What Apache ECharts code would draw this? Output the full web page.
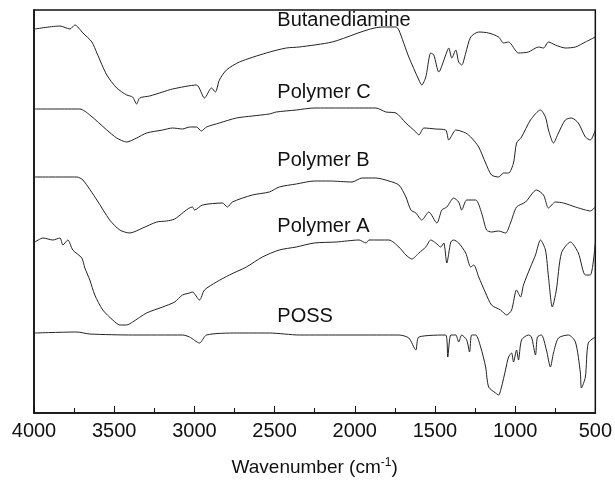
<!DOCTYPE html>
<html>
<head>
<meta charset="utf-8">
<script src="https://cdn.jsdelivr.net/npm/echarts@6/dist/echarts.min.js"></script>
<style>
  html, body { margin: 0; padding: 0; background: #fff; }
  #chart { width: 615px; height: 484px; }
</style>
</head>
<body>
<div id="chart"></div>
<script>
// FTIR spectra, stacked with offsets; [wavenumber, transmittance (a.u.)]
const butanediamine = [
  [3994, 384], [3838, 387], [3776, 384], [3745, 388], [3695, 380], [3639, 371], [3608, 360],
  [3546, 338], [3484, 325], [3422, 318], [3385, 316], [3360, 309], [3341, 315], [3279, 317],
  [3198, 321], [3136, 324], [2987, 328], [2937, 315], [2893, 325], [2869, 321], [2844, 333],
  [2800, 343], [2719, 351], [2552, 360], [2427, 365], [2346, 366], [2141, 371], [1830, 386],
  [1743, 386], [1725, 383], [1663, 356], [1600, 333], [1582, 328], [1557, 336], [1526, 360],
  [1507, 358], [1476, 341], [1433, 358], [1414, 365], [1395, 355], [1370, 363], [1352, 351],
  [1333, 348], [1308, 360], [1277, 376], [1227, 381], [1165, 380], [1103, 376], [1072, 370],
  [1041, 371], [979, 360], [917, 361], [854, 366], [823, 365], [792, 371], [749, 368],
  [687, 365], [624, 366], [562, 371], [500, 376]
];
const polymerC = [
  [3994, 304], [3714, 304], [3652, 298], [3546, 283], [3484, 275], [3422, 271], [3360, 275],
  [3298, 280], [3198, 283], [3136, 285], [3074, 284], [3030, 286], [2987, 286], [2956, 282],
  [2924, 286], [2844, 290], [2738, 295], [2639, 297], [2533, 299], [2489, 301], [2365, 303],
  [2253, 305], [2079, 305], [1868, 305], [1806, 301], [1743, 300], [1681, 290], [1619, 281],
  [1600, 278], [1569, 285], [1495, 284], [1433, 283], [1414, 273], [1383, 281], [1370, 283],
  [1308, 280], [1271, 275], [1227, 266], [1184, 250], [1147, 238], [1103, 236], [1072, 240],
  [1041, 240], [1010, 250], [991, 270], [960, 276], [904, 293], [842, 303], [811, 296],
  [792, 283], [761, 270], [730, 280], [687, 293], [649, 295], [606, 290], [562, 276],
  [531, 273], [500, 283]
];
const polymerB = [
  [3994, 236], [3733, 236], [3695, 233], [3608, 213], [3528, 193], [3465, 183], [3403, 180],
  [3322, 185], [3235, 191], [3173, 192], [3123, 194], [3012, 206], [2999, 203], [2949, 208],
  [2825, 210], [2794, 206], [2763, 211], [2639, 218], [2533, 221], [2471, 226], [2365, 229],
  [2253, 232], [2160, 232], [2017, 231], [1955, 235], [1868, 235], [1787, 232], [1725, 228],
  [1681, 216], [1650, 203], [1619, 200], [1582, 193], [1538, 201], [1488, 190], [1457, 203],
  [1426, 206], [1383, 215], [1352, 211], [1333, 203], [1302, 213], [1246, 213], [1209, 200],
  [1178, 183], [1147, 181], [1103, 182], [1060, 180], [1029, 190], [991, 206], [935, 211],
  [867, 223], [823, 218], [792, 205], [749, 211], [699, 210], [624, 206], [562, 203],
  [531, 202], [500, 206]
];
const polymerA = [
  [3994, 171], [3944, 175], [3882, 173], [3838, 175], [3820, 168], [3789, 173], [3758, 163],
  [3702, 155], [3683, 145], [3652, 133], [3621, 118], [3571, 103], [3509, 93], [3465, 88],
  [3422, 88], [3385, 91], [3298, 100], [3198, 106], [3123, 111], [3074, 118], [3030, 120],
  [3012, 121], [2968, 113], [2937, 123], [2862, 131], [2782, 138], [2676, 146], [2576, 156],
  [2471, 163], [2365, 166], [2253, 170], [2116, 171], [1973, 173], [1930, 170], [1911, 173],
  [1787, 173], [1725, 166], [1681, 158], [1644, 154], [1600, 160], [1557, 166], [1526, 173],
  [1495, 170], [1464, 166], [1445, 170], [1426, 150], [1401, 171], [1383, 173], [1352, 170],
  [1308, 160], [1277, 146], [1258, 148], [1227, 136], [1184, 120], [1147, 108], [1091, 103],
  [1053, 98], [1022, 103], [991, 123], [966, 116], [948, 128], [904, 146], [873, 158],
  [842, 173], [811, 163], [792, 136], [768, 106], [743, 123], [711, 160], [655, 171],
  [606, 160], [562, 138], [531, 138], [500, 170]
];
const poss = [
  [3994, 80], [3733, 81], [3652, 79], [3385, 78], [3074, 78], [3030, 76], [2968, 70],
  [2924, 78], [2738, 80], [2533, 80], [2346, 78], [1725, 78], [1663, 75], [1619, 63],
  [1600, 76], [1433, 78], [1420, 56], [1401, 78], [1370, 78], [1352, 71], [1333, 78],
  [1302, 73], [1284, 61], [1271, 78], [1246, 78], [1215, 66], [1184, 46], [1165, 26],
  [1122, 20], [1103, 18], [1085, 26], [1060, 43], [1041, 56], [1022, 60], [1010, 51],
  [991, 63], [979, 53], [960, 73], [917, 78], [898, 76], [873, 58], [861, 76], [836, 78],
  [805, 63], [780, 46], [761, 60], [730, 75], [668, 78], [624, 71], [593, 40], [587, 25],
  [562, 36], [544, 70], [500, 76]
];
const seriesNames = ['Butanediamine', 'Polymer C', 'Polymer B', 'Polymer A', 'POSS'];
const seriesData = [butanediamine, polymerC, polymerB, polymerA, poss];
// where each curve's name is written: [wavenumber, a.u.]
const labelAnchors = [[2483, 393], [2483, 321], [2483, 253], [2483, 187], [2483, 97]];

const font = 'Liberation Sans, Arial, Helvetica, sans-serif';
const myChart = echarts.init(document.getElementById('chart'));

myChart.setOption({
  animation: false,
  grid: { left: 34, right: 18, top: 10, bottom: 71, show: true, borderColor: '#111', borderWidth: 1.5 },
  xAxis: {
    type: 'value',
    min: 500,
    max: 4000,
    interval: 500,
    inverse: true,
    name: 'Wavenumber (cm{sup|-1})',
    nameLocation: 'middle',
    nameGap: 44,
    nameTextStyle: {
      color: '#111', fontSize: 19, fontFamily: font,
      rich: { sup: { fontSize: 12, fontFamily: font, color: '#111', padding: [0, 0, 10, 0] } }
    },
    axisLine: { lineStyle: { color: '#111', width: 1.5 } },
    axisTick: { inside: true, length: 7, lineStyle: { color: '#111' } },
    minorTick: { show: true, splitNumber: 2, length: 5, lineStyle: { color: '#111' } },
    axisLabel: { color: '#111', fontSize: 20, fontFamily: font, margin: 8, formatter: v => String(v) },
    splitLine: { show: false }
  },
  yAxis: {
    type: 'value',
    min: 0,
    max: 403,
    axisLine: { show: true, lineStyle: { color: '#111', width: 1.5 } },
    axisTick: { show: false },
    axisLabel: { show: false },
    splitLine: { show: false }
  },
  series: seriesData.map((d, i) => ({
    name: seriesNames[i],
    type: 'line',
    data: d,
    showSymbol: false,
    smooth: 0.25,
    lineStyle: { color: '#222', width: 1 },
    markPoint: {
      symbol: 'circle',
      symbolSize: 0,
      data: [{ coord: labelAnchors[i] }],
      label: {
        show: true,
        position: 'right',
        distance: 0,
        formatter: seriesNames[i],
        color: '#111',
        fontSize: 20,
        fontFamily: font
      }
    }
  }))
});
</script>
</body>
</html>
